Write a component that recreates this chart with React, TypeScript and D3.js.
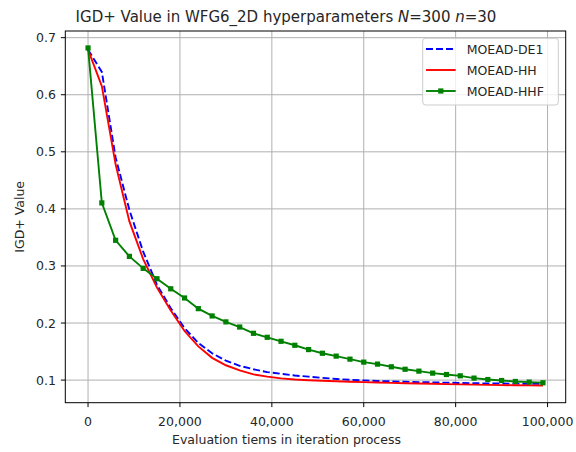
import React from 'react'
import * as d3 from 'd3'

// evaluations (every 3000)
const evals = d3.range(0, 100000, 3000)

const moeadDE1 = [0.679, 0.640, 0.490, 0.398, 0.325, 0.267, 0.226, 0.191, 0.165, 0.147, 0.134, 0.125,
  0.119, 0.114, 0.111, 0.108, 0.106, 0.104, 0.102, 0.1005, 0.0995, 0.0985, 0.0978, 0.097, 0.0965,
  0.096, 0.0955, 0.095, 0.0945, 0.0942, 0.094, 0.0938, 0.0936, 0.0935]

const moeadHH = [0.679, 0.615, 0.478, 0.378, 0.312, 0.262, 0.222, 0.186, 0.159, 0.139, 0.126, 0.117,
  0.110, 0.106, 0.103, 0.101, 0.0998, 0.0988, 0.098, 0.0972, 0.0965, 0.0958, 0.0952, 0.0945, 0.094,
  0.0935, 0.093, 0.0925, 0.092, 0.0916, 0.0912, 0.091, 0.0908, 0.0906]

const moeadHHF = [0.682, 0.4105, 0.345, 0.3168, 0.2958, 0.2776, 0.260, 0.2439, 0.2252, 0.2124, 0.202,
  0.193, 0.182, 0.175, 0.168, 0.161, 0.1535, 0.147, 0.142, 0.1367, 0.1315, 0.128, 0.1233, 0.119,
  0.1157, 0.1122, 0.1098, 0.1075, 0.1035, 0.101, 0.0993, 0.0976, 0.0965, 0.0953]

const xTicks = [0, 20000, 40000, 60000, 80000, 100000]
const yTicks = [0.1, 0.2, 0.3, 0.4, 0.5, 0.6, 0.7]

const series = [
  { name: 'MOEAD-DE1', values: moeadDE1, color: '#0000ff', dash: '7,3', marker: false },
  { name: 'MOEAD-HH', values: moeadHH, color: '#ff0000', dash: null, marker: false },
  { name: 'MOEAD-HHF', values: moeadHHF, color: '#008000', dash: null, marker: true },
]

const App = () => {
  const width = 576
  const height = 452
  const left = 65.3, right = 565.7, top = 31, bottom = 402.7
  const font = 'DejaVu Sans, sans-serif'

  const x = d3.scaleLinear().domain([-4950, 103950]).range([left, right])
  const y = d3.scaleLinear().domain([0.0604, 0.7117]).range([bottom, top])
  const fmt = d3.format(',')

  const line = d3.line<number>()
    .x((_, i) => x(evals[i]))
    .y(d => y(d))

  return (
    <svg width={width} height={height} style={{ position: 'absolute', left: 0, top: 0, background: '#fff' }}
      fontFamily={font}>
      <rect x={0} y={0} width={width} height={height} fill="#fff" />
      {/* grid */}
      {xTicks.map(t => (
        <line key={'gx' + t} x1={x(t)} x2={x(t)} y1={top} y2={bottom} stroke="#b0b0b0" strokeWidth={1} />
      ))}
      {yTicks.map(t => (
        <line key={'gy' + t} x1={left} x2={right} y1={y(t)} y2={y(t)} stroke="#b0b0b0" strokeWidth={1} />
      ))}

      {/* lines */}
      {series.map(s => (
        <path key={s.name} d={line(s.values) || ''} fill="none" stroke={s.color} strokeWidth={1.9}
          strokeDasharray={s.dash || undefined} />
      ))}
      {series.filter(s => s.marker).map(s => (
        <g key={s.name + 'm'}>
          {s.values.map((v, i) => (
            <rect key={i} x={x(evals[i]) - 2.6} y={y(v) - 2.6} width={5.2} height={5.2} fill={s.color} />
          ))}
        </g>
      ))}

      {/* axes frame */}
      <rect x={left} y={top} width={right - left} height={bottom - top} fill="none" stroke="#000" strokeWidth={1} />

      {/* ticks */}
      {xTicks.map(t => (
        <g key={'tx' + t}>
          <line x1={x(t)} x2={x(t)} y1={bottom} y2={bottom + 4.4} stroke="#000" />
          <text x={x(t)} y={426} textAnchor="middle" fontSize={12.5} fill="#262626">{fmt(t)}</text>
        </g>
      ))}
      {yTicks.map(t => (
        <g key={'ty' + t}>
          <line x1={left - 4.4} x2={left} y1={y(t)} y2={y(t)} stroke="#000" />
          <text x={56} y={y(t) + 4.5} textAnchor="end" fontSize={12.5} fill="#262626">{t.toFixed(1)}</text>
        </g>
      ))}

      {/* labels */}
      <text x={(left + right) / 2 - 29} y={444} textAnchor="middle" fontSize={12.5} fill="#262626">
        Evaluation tiems in iteration process
      </text>
      <text transform={`translate(24,${(top + bottom) / 2}) rotate(-90)`} textAnchor="middle" fontSize={12.5} fill="#262626">
        IGD+ Value
      </text>
      <text x={286} y={21.5} textAnchor="middle" fontSize={15} fill="#262626">
        IGD+ Value in WFG6_2D hyperparameters <tspan fontStyle="italic">N</tspan>=300 <tspan fontStyle="italic">n</tspan>=30
      </text>

      {/* legend */}
      <rect x={422.7} y={38.3} width={135.6} height={66.7} rx={3} fill="#fff" fillOpacity={0.8} stroke="#cccccc" strokeWidth={1} />
      {series.map((s, i) => {
        const cy = 49 + i * 21
        return (
          <g key={'lg' + s.name}>
            <line x1={426} x2={455.7} y1={cy} y2={cy} stroke={s.color} strokeWidth={1.9}
              strokeDasharray={s.dash || undefined} />
            {s.marker && <rect x={440.8 - 2.6} y={cy - 2.6} width={5.2} height={5.2} fill={s.color} />}
            <text x={466.7} y={cy + 4.5} fontSize={12.5} fill="#262626">{s.name}</text>
          </g>
        )
      })}
    </svg>
  )
}

export default App
